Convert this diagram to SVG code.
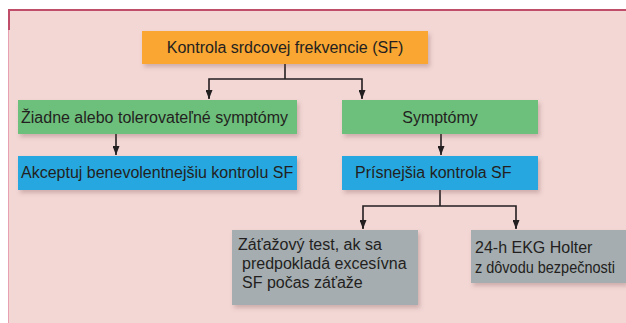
<svg xmlns="http://www.w3.org/2000/svg" width="626" height="323" viewBox="0 0 626 323">
  <style>
    .t { font-family: "Liberation Sans", Arial, sans-serif; font-size: 16px; fill: #231f20; }
    .c { stroke: #231f20; stroke-width: 1.6; fill: none; }
    .box { filter: url(#sh); }
  </style>
  <defs>
    <filter id="sh" x="-10%" y="-20%" width="130%" height="160%">
      <feDropShadow dx="2" dy="3" stdDeviation="2" flood-color="#7a5050" flood-opacity="0.3"/>
    </filter>
    <marker id="ad" viewBox="0 0 7 9" refX="3.5" refY="9" markerWidth="7" markerHeight="9" markerUnits="userSpaceOnUse" orient="0">
      <path d="M0,0 L7,0 L3.5,9 Z" fill="#231f20"/>
    </marker>
  </defs>
  <rect width="626" height="323" fill="#ffffff"/>
  <rect x="8" y="10" width="618" height="313" fill="#f2d7d5"/>
  <line x1="8.5" y1="10" x2="8.5" y2="323" stroke="#e7a0b2" stroke-width="1"/>
  <line x1="8" y1="10" x2="626" y2="10" stroke="#c04e6a" stroke-width="2"/>
  <line x1="9" y1="9" x2="9" y2="30" stroke="#c04e6a" stroke-width="2"/>

  <g id="connectors">
    <line class="c" x1="285" y1="64" x2="285" y2="79"/>
    <polyline class="c" points="209,98 209,79 362,79 362,98"/>
    <line class="c" x1="209" y1="90" x2="209" y2="99" marker-end="url(#ad)"/>
    <line class="c" x1="362" y1="90" x2="362" y2="99" marker-end="url(#ad)"/>
    <line class="c" x1="116" y1="134" x2="116" y2="155" marker-end="url(#ad)"/>
    <line class="c" x1="441" y1="134" x2="441" y2="155" marker-end="url(#ad)"/>
    <line class="c" x1="440" y1="190" x2="440" y2="206"/>
    <polyline class="c" points="363,228 363,206 516,206 516,228"/>
    <line class="c" x1="363" y1="220" x2="363" y2="229" marker-end="url(#ad)"/>
    <line class="c" x1="516" y1="220" x2="516" y2="229" marker-end="url(#ad)"/>
  </g>

  <g id="n-root">
    <rect class="box" x="142" y="31" width="286" height="33" fill="#f9a631"/>
    <text class="t" x="285" y="53" text-anchor="middle">Kontrola srdcovej frekvencie (SF)</text>
  </g>
  <g id="n-none">
    <rect class="box" x="18" y="100" width="279" height="34" fill="#6dc07c"/>
    <text class="t" x="21" y="123">Žiadne alebo tolerovateľné symptómy</text>
  </g>
  <g id="n-sympt">
    <rect class="box" x="342" y="100" width="196" height="34" fill="#6dc07c"/>
    <text class="t" x="440" y="123" text-anchor="middle">Symptómy</text>
  </g>
  <g id="n-accept">
    <rect class="box" x="18" y="156" width="279" height="34" fill="#27a7e0"/>
    <text class="t" x="21" y="178">Akceptuj benevolentnejšiu kontrolu SF</text>
  </g>
  <g id="n-strict">
    <rect class="box" x="342" y="156" width="196" height="34" fill="#27a7e0"/>
    <text class="t" x="355" y="178">Prísnejšia kontrola SF</text>
  </g>
  <g id="n-stress">
    <rect class="box" x="232" y="230" width="186" height="75" fill="#a5adb1"/>
    <text class="t" x="238" y="250">Záťažový test, ak sa</text>
    <text class="t" x="242" y="269">predpokladá excesívna</text>
    <text class="t" x="242" y="288">SF počas záťaže</text>
  </g>
  <g id="n-holter">
    <rect class="box" x="471" y="230" width="155" height="53" fill="#a5adb1"/>
    <text class="t" x="475" y="253">24-h EKG Holter</text>
    <text class="t" x="475" y="273" textLength="140" lengthAdjust="spacingAndGlyphs">z dôvodu bezpečnosti</text>
  </g>
</svg>
